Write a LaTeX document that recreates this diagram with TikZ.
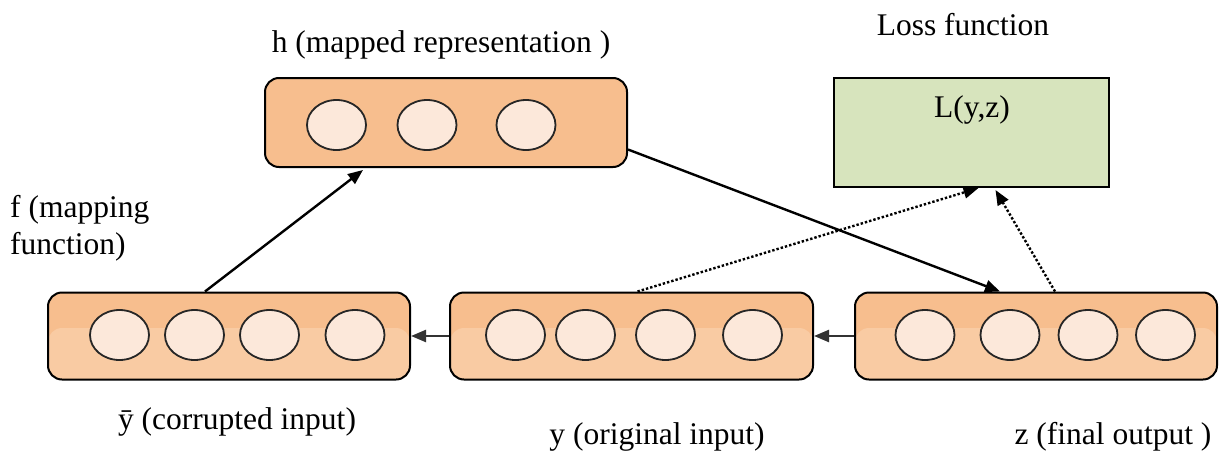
\documentclass[tikz,border=0pt]{standalone}
\usepackage{fontspec}
\setmainfont{Liberation Serif}
\newfontfamily\tnr{Liberation Serif}
\usetikzlibrary{arrows.meta,shapes.geometric,calc}
\definecolor{boxtop}{HTML}{F7BE8E}
\definecolor{boxlow}{HTML}{F9CBA3}
\definecolor{cellfill}{HTML}{FCE8DA}
\definecolor{lossfill}{HTML}{D7E4BD}
\definecolor{arrowgray}{HTML}{333333}
\tikzset{
  layerbox/.style={draw=black, line width=2pt, rounded corners=14pt, fill=boxtop,
    minimum width=362pt, minimum height=87pt, inner sep=0pt},
  twotone/.style={path picture={\fill[boxlow] ([yshift=8pt]path picture bounding box.west) rectangle (path picture bounding box.south east);}},
  cell/.style={draw=black!85, line width=1.8pt, ellipse, fill=cellfill,
    minimum width=59pt, minimum height=50pt, inner sep=0pt},
  lossbox/.style={draw=black, line width=2pt, fill=lossfill,
    minimum width=275pt, minimum height=109pt, inner sep=0pt},
  lbl/.style={font=\tnr\fontsize{31.5}{38}\selectfont, inner sep=0pt},
  arr/.style={line width=2.4pt, -{Triangle[length=15pt,width=12pt]}},
  garr/.style={arr, draw=arrowgray},
  darr/.style={line width=2.4pt, dotted, -{Triangle[length=15pt,width=12pt]}},
}
\begin{document}
\begin{tikzpicture}[x=1pt,y=-1pt]
\useasboundingbox (0,0) rectangle (1225,450);
% boxes
\node[layerbox] (h) at (446,122.5) [minimum height=89pt] {};
\node[layerbox,twotone] (yb) at (229,336) {};
\node[layerbox,twotone] (y) at (631.5,336) [minimum width=363pt] {};
\node[layerbox,twotone] (z) at (1036,336) {};
\node[lossbox] (L) at (971.5,132.5) {};
\node[lbl] (Lt) at (972,110) {L(y,z)};
% cells
\node[cell] (h1) at (336.5,125) {};
\node[cell] (h2) at (427,125) {};
\node[cell] (h3) at (526,125) {};
\node[cell] (yb1) at (119.5,335) {};
\node[cell] (yb2) at (194.5,335) {};
\node[cell] (yb3) at (269.5,335) {};
\node[cell] (yb4) at (355,335) {};
\node[cell] (y1) at (515.5,335) {};
\node[cell] (y2) at (585.5,335) {};
\node[cell] (y3) at (665.5,335) {};
\node[cell] (y4) at (752.5,335) {};
\node[cell] (z1) at (925,335) {};
\node[cell] (z2) at (1010,335) {};
\node[cell] (z3) at (1088,335) {};
\node[cell] (z4) at (1165.5,335) {};
% labels
\node[lbl] (lossl) at (963,25) {Loss function};
\node[lbl] (hl) at (441,45) {h (mapped representation )};
\node[lbl,anchor=west] (fl1) at (10,210) {f (mapping};
\node[lbl,anchor=west] (fl2) at (10,247) {function)};
\node[lbl] (ybl) at (237,422) {ȳ (corrupted input)};
\node[lbl] (yl) at (657,437) {y (original input)};
\node[lbl] (zl) at (1113,437) {z (final output )};
% connectors
\draw[arr] ([xshift=-24pt]yb.north) -- ([xshift=-83pt,yshift=-2pt]h.south);
\draw[arr] ([yshift=-27pt]h.east) -- ([xshift=-36pt]z.north);
\draw[garr] (z.west) -- (y.east);
\draw[garr] (y.west) -- (yb.east);
\draw[darr] ([xshift=6pt]y.north) -- ([xshift=7pt]L.south);
\draw[darr] ([xshift=19pt]z.north) -- ([xshift=24pt,yshift=-2pt]L.south);
\end{tikzpicture}
\end{document}
